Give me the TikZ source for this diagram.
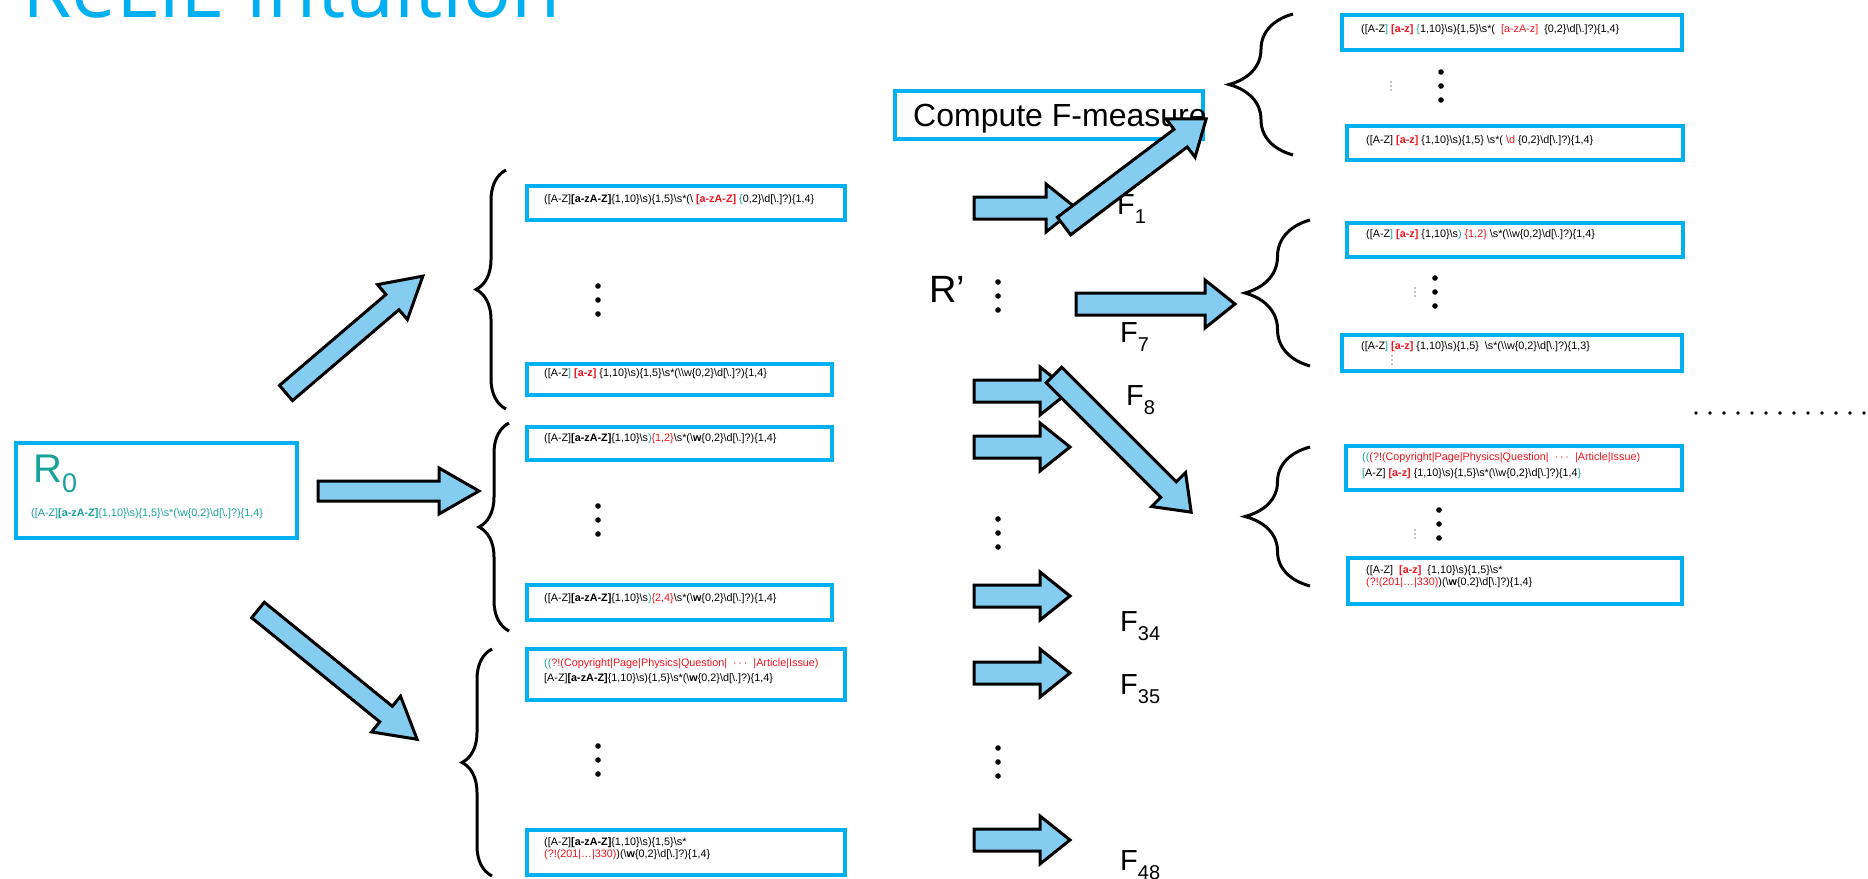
\documentclass[tikz,border=0pt]{standalone}
\usepackage{fontspec}
\setmainfont{Liberation Sans}
\newfontfamily\titlefont{Open Sans}
\usetikzlibrary{decorations.pathreplacing}
\definecolor{boxcyan}{HTML}{00B0F0}
\definecolor{arrowfill}{HTML}{84CDF0}
\definecolor{rxteal}{HTML}{17A398}
\definecolor{rxred}{HTML}{F0141E}
\newcommand{\bsl}{\textbackslash}
\newcommand{\ob}{\{}
\newcommand{\cb}{\}}
\newcommand{\rx}[1]{\textcolor{rxred}{#1}}
\newcommand{\tq}[1]{\textcolor{rxteal}{#1}}
\newcommand{\fsub}[1]{\raisebox{-9pt}{\fontsize{20}{20}\selectfont #1}}
% block arrow: tail x, tail y, angle, length, shaft half, head half, head length
\newcommand{\blockarrow}[7]{%
  \begin{scope}[shift={(#1,#2)},rotate=#3]
    \draw[blockarr] (0,-#5) -- (#4-#7,-#5) -- (#4-#7,-#6) -- (#4,0)
      -- (#4-#7,#6) -- (#4-#7,#5) -- (0,#5) -- cycle;
  \end{scope}}
% vertical ellipsis made of three dots
\newcommand{\bigvdots}[2]{%
  \foreach \k in {-14,0,14} \fill (#1,#2+\k) circle (2.8);}
\newcommand{\smallvdots}[2]{%
  \foreach \k in {-4,0,4} \fill (#1,#2+\k) circle (0.7);}
\begin{document}
\begin{tikzpicture}[x=1pt,y=-1pt,
  regbox/.style={draw=boxcyan, line width=4pt, anchor=north west, inner sep=0pt},
  rxtext/.style={anchor=base west, inner sep=0pt, font=\fontsize{10.8}{13}\selectfont},
  flabel/.style={anchor=base west, inner sep=0pt, font=\fontsize{29}{29}\selectfont},
  bracestyle/.style={draw, line width=3pt, decorate, decoration={brace, amplitude=#1}},
  blockarr/.style={draw=black, fill=arrowfill, line width=3pt, line join=miter}]
\useasboundingbox (0,0) rectangle (1868,878);
\clip (0,0) rectangle (1868,878);

% title
\node[anchor=base west, inner sep=0pt, text=boxcyan,
  font=\titlefont\fontsize{80}{80}\selectfont] (title) at (22,17) {ReLIE Intuition};

% initial regex
\node[regbox, minimum width=281, minimum height=95] (r0) at (14,441) {};
\node[anchor=base west, inner sep=0pt, text=rxteal, font=\fontsize{40}{40}\selectfont]
  (r0name) at (33,482) {R\raisebox{-10pt}{\fontsize{27}{27}\selectfont 0}};
\node[rxtext] (r0text) at (31,516)
  {\tq{([A-Z]\textbf{[a-zA-Z]}\ob 1,10\cb\bsl s)\ob 1,5\cb\bsl s*(\bsl w\ob 0,2\cb\bsl d[\bsl.]?)\ob 1,4\cb}};

% first-level candidate boxes
\node[regbox, minimum width=318, minimum height=34] (a1) at (525,184) {};
\node[rxtext] (a1t) at (544,202)
  {([A-Z]\textbf{[a-zA-Z]}\ob 1,10\cb\bsl s)\ob 1,5\cb\bsl s*(\bsl\ \rx{\textbf{[a-zA-Z]}} \tq{\ob}0,2\cb\bsl d[\bsl.]?)\ob 1,4\cb};
\node[regbox, minimum width=305, minimum height=31] (a2) at (525,362) {};
\node[rxtext] (a2t) at (544,376)
  {([A-Z\tq{]} \rx{\textbf{[a-z]}} \ob 1,10\cb\bsl s)\ob 1,5\cb\bsl s*(\bsl\bsl w\ob 0,2\cb\bsl d[\bsl.]?)\ob 1,4\cb};

\node[regbox, minimum width=305, minimum height=33] (b1) at (525,425) {};
\node[rxtext] (b1t) at (544,441)
  {([A-Z]\textbf{[a-zA-Z]}\ob 1,10\cb\bsl s\tq{)}\rx{\ob 1,2\cb}\bsl s*(\bsl\textbf{w}\ob 0,2\cb\bsl d[\bsl.]?)\ob 1,4\cb};
\node[regbox, minimum width=305, minimum height=35] (b2) at (525,583) {};
\node[rxtext] (b2t) at (544,601)
  {([A-Z]\textbf{[a-zA-Z]}\ob 1,10\cb\bsl s\tq{)}\rx{\ob 2,4\cb}\bsl s*(\bsl\textbf{w}\ob 0,2\cb\bsl d[\bsl.]?)\ob 1,4\cb};

\node[regbox, minimum width=318, minimum height=51] (c1) at (525,647) {};
\node[rxtext] (c1t) at (544,666)
  {\tq{((}\rx{?!(Copyright|Page|Physics|Question| \ ·\,·\,· \ |Article|Issue)}};
\node[rxtext] (c1u) at (544,681)
  {[A-Z]\textbf{[a-zA-Z]}\ob 1,10\cb\bsl s)\ob 1,5\cb\bsl s*(\bsl\textbf{w}\ob 0,2\cb\bsl d[\bsl.]?)\ob 1,4\cb};
\node[regbox, minimum width=318, minimum height=45] (c2) at (525,828) {};
\node[rxtext] (c2t) at (544,845)
  {([A-Z]\textbf{[a-zA-Z]}\ob 1,10\cb\bsl s)\ob 1,5\cb\bsl s*};
\node[rxtext] (c2u) at (544,857)
  {\rx{(?!(201|…|330)})(\bsl\textbf{w}\ob 0,2\cb\bsl d[\bsl.]?)\ob 1,4\cb};

% braces of the first level
\draw[bracestyle=30pt] (506,409) -- (506,170);
\draw[bracestyle=30pt] (509,631) -- (509,423);
\draw[bracestyle=30pt] (492,876) -- (492,649);

% dots of the first level
\bigvdots{598}{300}
\bigvdots{598}{520}
\bigvdots{598}{760}

% arrows from R0
\blockarrow{286}{393}{40.5}{180}{10}{23}{40}
\blockarrow{318}{491}{0}{161}{10}{23}{40}
\blockarrow{258}{610}{-39.1}{205}{10}{23}{40}

% middle column
\node[anchor=base west, inner sep=0pt, font=\fontsize{38}{38}\selectfont] (rp) at (929,302) {R’};
\bigvdots{998}{296}
\bigvdots{998}{533}
\bigvdots{998}{762}

\blockarrow{974}{208}{0}{102}{11}{24}{30}
\blockarrow{1076}{304}{0}{159}{11}{24}{30}
\blockarrow{974}{391}{0}{96}{11}{24}{30}
\blockarrow{974}{447}{0}{96}{11}{24}{30}
\blockarrow{974}{596}{0}{96}{11}{24}{30}
\blockarrow{974}{673}{0}{96}{11}{24}{30}
\blockarrow{974}{840}{0}{96}{11}{24}{30}

\node[flabel] (f1) at (1117,214) {F\fsub{1}};
\node[flabel] (f7) at (1120,342) {F\fsub{7}};
\node[flabel] (f8) at (1126,405) {F\fsub{8}};
\node[flabel] (f34) at (1120,631) {F\fsub{34}};
\node[flabel] (f35) at (1120,694) {F\fsub{35}};
\node[flabel] (f48) at (1120,870) {F\fsub{48}};

% F-measure box
\node[regbox, minimum width=308, minimum height=48] (fm) at (893,89) {};
\node[anchor=base west, inner sep=0pt, font=\fontsize{32}{32}\selectfont] (fmt) at (913,126) {Compute F-measure};

\blockarrow{1064}{226}{37}{178}{11}{24}{32}
\blockarrow{1054}{375}{-45}{194}{11}{24}{32}

% second-level boxes
\draw[bracestyle=64pt] (1293,155) -- (1293,14);
\node[regbox, minimum width=340, minimum height=35] (d1) at (1340,13) {};
\node[rxtext] (d1t) at (1361,32)
  {([A-Z\tq{]} \rx{\textbf{[a-z]}} \tq{\ob}1,10\cb\bsl s)\ob 1,5\cb\bsl s*( \ \rx{[a-zA-z]} \ \ob 0,2\cb\bsl d[\bsl.]?)\ob 1,4\cb};
\node[regbox, minimum width=336, minimum height=34] (d2) at (1345,124) {};
\node[rxtext] (d2t) at (1366,143)
  {([A-Z] \rx{\textbf{[a-z]}} \ob 1,10\cb\bsl s)\ob 1,5\cb\ \bsl s*( \rx{\bsl d} \ob 0,2\cb\bsl d[\bsl.]?)\ob 1,4\cb};
\smallvdots{1391}{86}
\bigvdots{1441}{86}

\draw[bracestyle=65pt] (1310,366) -- (1310,220);
\node[regbox, minimum width=336, minimum height=34] (e1) at (1345,221) {};
\node[rxtext] (e1t) at (1366,237)
  {([A-Z\tq{]} \rx{\textbf{[a-z]}} \ob 1,10\cb\bsl s\tq{)} \rx{\ob 1,2\cb} \bsl s*(\bsl\bsl w\ob 0,2\cb\bsl d[\bsl.]?)\ob 1,4\cb};
\node[regbox, minimum width=340, minimum height=36] (e2) at (1340,333) {};
\node[rxtext] (e2t) at (1361,349)
  {([A-Z\tq{]} \rx{\textbf{[a-z]}} \ob 1,10\cb\bsl s)\ob 1,5\cb\ \ \bsl s*(\bsl\bsl w\ob 0,2\cb\bsl d[\bsl.]?)\ob 1,3\cb};
\smallvdots{1392}{360}
\smallvdots{1415}{292}
\bigvdots{1435}{292}

\draw[bracestyle=65pt] (1310,586) -- (1310,447);
\node[regbox, minimum width=336, minimum height=44] (g1) at (1344,444) {};
\node[rxtext] (g1t) at (1362,460)
  {\tq{((}\rx{(?!(Copyright|Page|Physics|Question| \ ·\,·\,· \ |Article|Issue)}};
\node[rxtext] (g1u) at (1362,476)
  {\tq{[}A-Z] \rx{\textbf{[a-z]}} \ob 1,10\cb\bsl s)\ob 1,5\cb\bsl s*(\bsl\bsl w\ob 0,2\cb\bsl d[\bsl.]?)\ob 1,4\tq{\cb}};
\node[regbox, minimum width=334, minimum height=46] (g2) at (1346,556) {};
\node[rxtext] (g2t) at (1366,573)
  {([A-Z]\ \ \rx{\textbf{[a-z]}}\ \ \ob 1,10\cb\bsl s)\ob 1,5\cb\bsl s*};
\node[rxtext] (g2u) at (1366,585)
  {\rx{(?!(201|…|330)})(\bsl\textbf{w}\ob 0,2\cb\bsl d[\bsl.]?)\ob 1,4\cb};
\smallvdots{1415}{534}
\bigvdots{1439}{524}

% trailing dotted line
\foreach \xx in {1696,1710,...,1866} \fill (\xx,413) circle (1.9);
\end{tikzpicture}
\end{document}
